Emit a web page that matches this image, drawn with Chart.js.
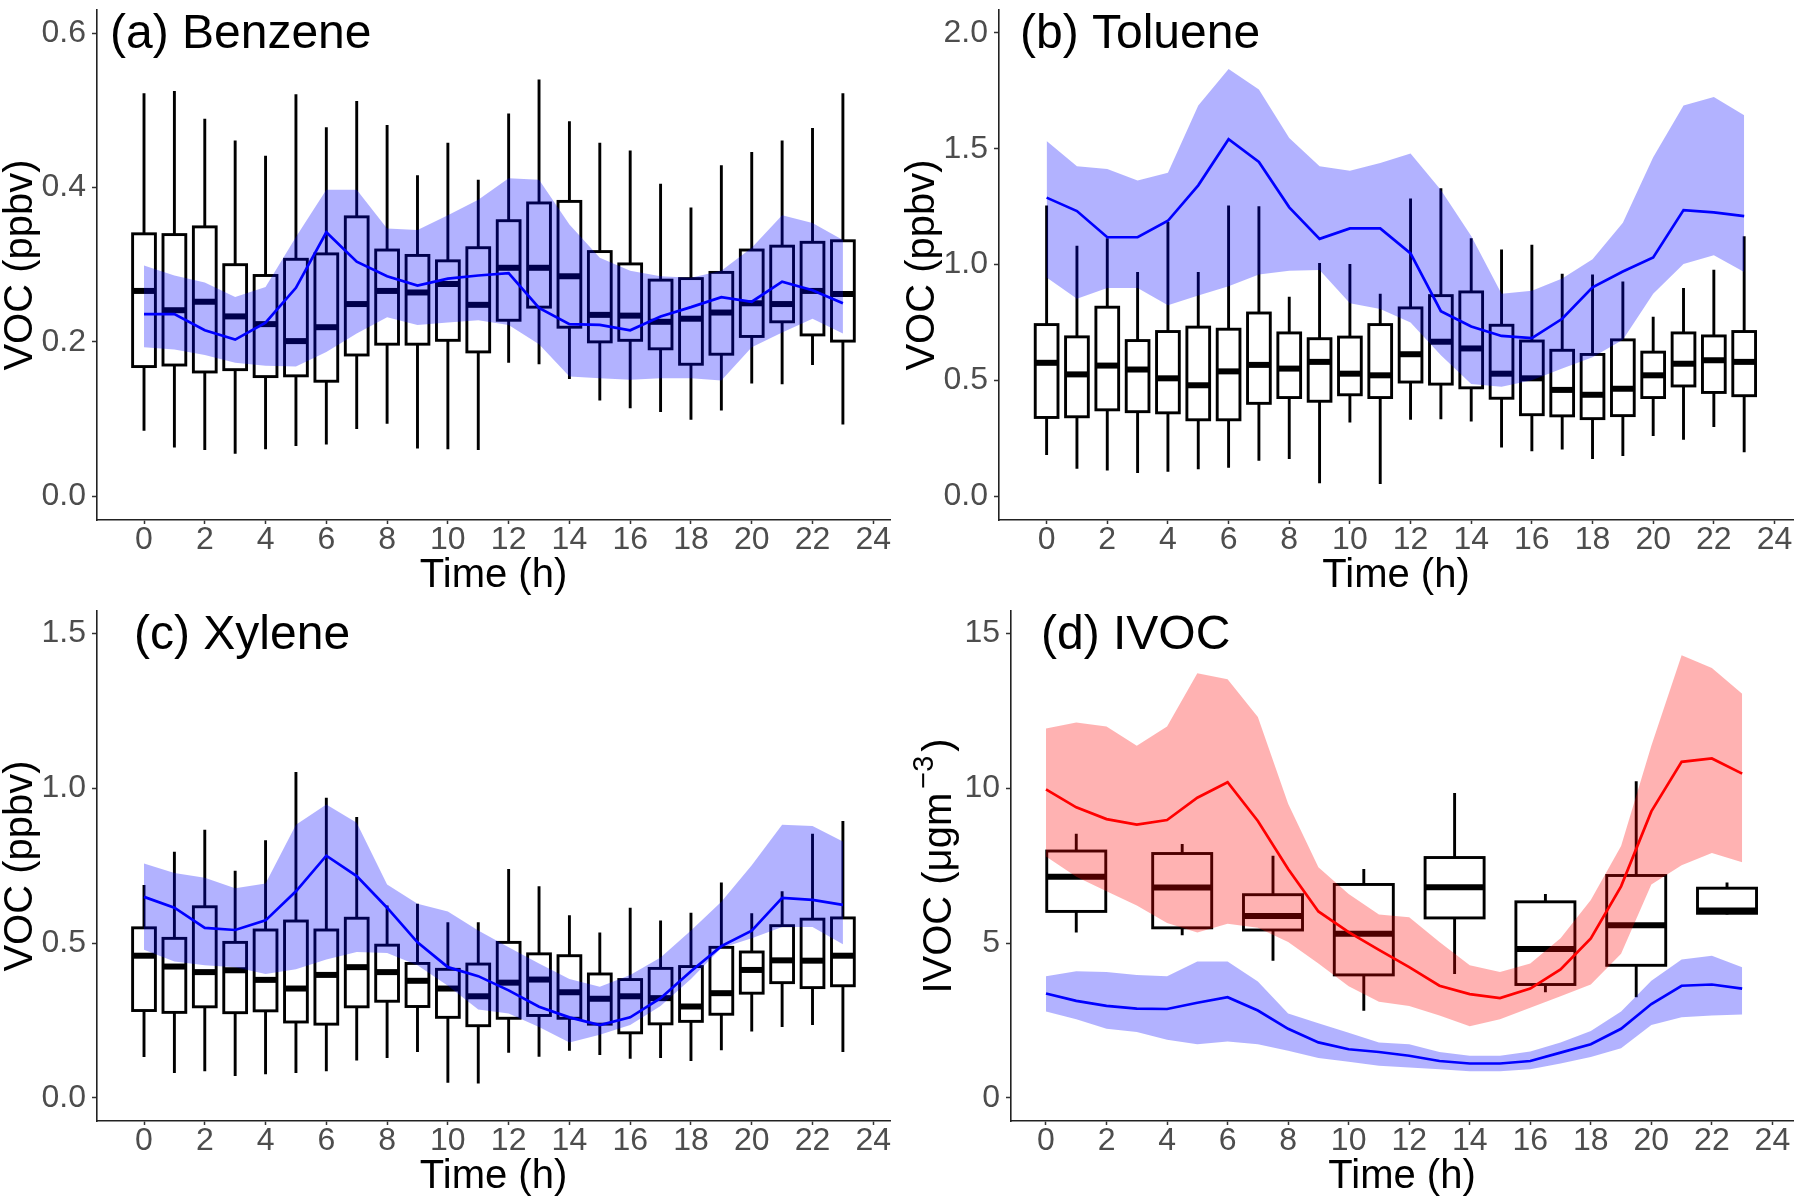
<!DOCTYPE html>
<html><head><meta charset="utf-8">
<script src="https://cdn.jsdelivr.net/npm/chart.js@4.4.1/dist/chart.umd.min.js"></script>
<style>
html,body{margin:0;padding:0;background:#fff;width:1800px;height:1204px;overflow:hidden}
canvas{position:absolute}
</style></head><body>
<canvas id="ca" width="900" height="600" style="left:0;top:0"></canvas>
<canvas id="cb" width="900" height="600" style="left:900px;top:0"></canvas>
<canvas id="cc" width="900" height="600" style="left:0;top:601px"></canvas>
<canvas id="cd" width="900" height="600" style="left:900px;top:601px"></canvas>
<script>
const FONT = '"Liberation Sans", Arial, Helvetica, sans-serif';

// ---------- data ----------
const hours = [0,1,2,3,4,5,6,7,8,9,10,11,12,13,14,15,16,17,18,19,20,21,22,23];
const xTickValues = [0,2,4,6,8,10,12,14,16,18,20,22,24];
const xTitle = 'Time (h)';
const vocTitle = 'VOC (ppbv)';

// (a) Benzene
const bzTicks = [0, 0.2, 0.4, 0.6];
const bzTickLabels = ['0.0','0.2','0.4','0.6'];
const bzMin = [0.085,0.063,0.060,0.055,0.061,0.065,0.067,0.087,0.094,0.062,0.061,0.060,0.173,0.171,0.152,0.124,0.114,0.109,0.099,0.111,0.146,0.145,0.170,0.093];
const bzQ1  = [0.168,0.170,0.161,0.164,0.155,0.156,0.149,0.183,0.197,0.197,0.202,0.187,0.228,0.245,0.219,0.200,0.202,0.191,0.171,0.184,0.207,0.226,0.209,0.201];
const bzMed = [0.266,0.241,0.252,0.233,0.223,0.201,0.219,0.249,0.266,0.264,0.275,0.248,0.296,0.296,0.285,0.235,0.234,0.226,0.230,0.238,0.250,0.249,0.266,0.262];
const bzQ3  = [0.340,0.339,0.349,0.300,0.286,0.307,0.314,0.362,0.319,0.312,0.305,0.322,0.357,0.380,0.382,0.317,0.301,0.280,0.282,0.290,0.319,0.324,0.329,0.331];
const bzMax = [0.522,0.525,0.489,0.461,0.441,0.521,0.478,0.512,0.481,0.416,0.458,0.410,0.496,0.540,0.486,0.458,0.448,0.405,0.374,0.429,0.446,0.461,0.477,0.522];
const bzModel = [0.236,0.236,0.215,0.203,0.225,0.270,0.342,0.304,0.285,0.273,0.282,0.286,0.289,0.244,0.223,0.222,0.215,0.233,0.245,0.258,0.252,0.278,0.267,0.250];
const bzHigh  = [0.299,0.286,0.277,0.258,0.271,0.336,0.397,0.397,0.347,0.345,0.364,0.384,0.412,0.410,0.352,0.309,0.292,0.285,0.283,0.292,0.322,0.364,0.354,0.332];
const bzLow   = [0.193,0.190,0.183,0.173,0.169,0.168,0.187,0.211,0.232,0.222,0.225,0.228,0.222,0.197,0.155,0.153,0.151,0.153,0.153,0.150,0.193,0.212,0.230,0.211];

// (b) Toluene
const tlTicks = [0, 0.5, 1.0, 1.5, 2.0];
const tlTickLabels = ['0.0','0.5','1.0','1.5','2.0'];
const tlMin = [0.178,0.119,0.111,0.100,0.106,0.116,0.123,0.153,0.161,0.056,0.318,0.053,0.330,0.332,0.323,0.210,0.194,0.202,0.161,0.174,0.260,0.244,0.299,0.190];
const tlQ1  = [0.340,0.343,0.373,0.365,0.360,0.330,0.330,0.401,0.426,0.410,0.438,0.426,0.493,0.484,0.468,0.423,0.352,0.347,0.335,0.348,0.426,0.476,0.448,0.434];
const tlMed = [0.576,0.526,0.564,0.547,0.509,0.479,0.539,0.567,0.551,0.580,0.529,0.522,0.613,0.667,0.638,0.529,0.509,0.459,0.438,0.464,0.522,0.572,0.587,0.580];
const tlQ3  = [0.741,0.688,0.816,0.672,0.711,0.730,0.721,0.791,0.705,0.680,0.687,0.741,0.813,0.866,0.882,0.738,0.670,0.630,0.612,0.675,0.622,0.705,0.692,0.711];
const tlMax = [1.255,1.081,1.114,0.968,1.184,0.968,1.255,1.252,0.861,1.007,1.002,0.874,1.285,1.330,1.114,1.065,1.086,0.960,0.957,0.927,0.775,0.899,0.978,1.122];
const tlModel = [1.289,1.231,1.118,1.118,1.189,1.342,1.541,1.443,1.247,1.111,1.156,1.156,1.048,0.799,0.733,0.692,0.683,0.766,0.902,0.970,1.031,1.235,1.225,1.209];
const tlHigh  = [1.534,1.424,1.413,1.363,1.396,1.687,1.844,1.756,1.546,1.424,1.405,1.438,1.479,1.322,1.123,0.874,0.887,0.940,1.023,1.181,1.463,1.687,1.723,1.645];
const tlLow   = [0.944,0.852,0.899,0.899,0.824,0.866,0.907,0.957,0.973,0.977,0.833,0.808,0.750,0.609,0.484,0.473,0.501,0.551,0.600,0.675,0.874,1.002,1.040,0.968];

// (c) Xylene
const xyTicks = [0, 0.5, 1.0, 1.5];
const xyTickLabels = ['0.0','0.5','1.0','1.5'];
const xyMin = [0.132,0.080,0.086,0.071,0.076,0.080,0.086,0.121,0.129,0.148,0.049,0.046,0.146,0.133,0.152,0.138,0.126,0.129,0.119,0.154,0.214,0.229,0.235,0.148];
const xyQ1  = [0.282,0.276,0.294,0.275,0.281,0.245,0.238,0.294,0.312,0.295,0.260,0.233,0.257,0.266,0.257,0.238,0.210,0.239,0.247,0.270,0.338,0.372,0.356,0.362];
const xyMed = [0.459,0.424,0.406,0.412,0.381,0.353,0.397,0.422,0.406,0.378,0.353,0.328,0.372,0.382,0.341,0.320,0.328,0.322,0.295,0.338,0.413,0.444,0.443,0.459];
const xyQ3  = [0.549,0.515,0.617,0.502,0.542,0.571,0.542,0.580,0.493,0.434,0.415,0.432,0.502,0.465,0.459,0.400,0.382,0.418,0.424,0.486,0.471,0.556,0.577,0.581];
const xyMax = [0.687,0.795,0.866,0.733,0.832,1.052,0.969,0.907,0.621,0.627,0.567,0.567,0.739,0.683,0.590,0.534,0.614,0.573,0.598,0.695,0.596,0.667,0.853,0.894];
const xyModel = [0.649,0.614,0.549,0.542,0.573,0.667,0.782,0.716,0.614,0.502,0.422,0.393,0.347,0.294,0.260,0.235,0.260,0.322,0.409,0.490,0.540,0.646,0.639,0.623];
const xyHigh  = [0.757,0.726,0.711,0.677,0.692,0.882,0.947,0.888,0.689,0.627,0.602,0.540,0.486,0.434,0.384,0.359,0.397,0.453,0.540,0.633,0.751,0.882,0.878,0.828];
const xyLow   = [0.478,0.440,0.428,0.422,0.400,0.415,0.447,0.471,0.468,0.428,0.362,0.285,0.272,0.229,0.179,0.204,0.235,0.297,0.384,0.484,0.515,0.552,0.552,0.496];

// (d) IVOC
const ivTicks = [0, 5, 10, 15];
const ivTickLabels = ['0','5','10','15'];
const ivBoxX = [1, 4.5, 7.5, 10.5, 13.5, 16.5, 19.5, 22.5];
const ivMin = [5.34,5.25,4.43,2.81,4.00,3.41,3.25,5.92];
const ivQ1  = [6.02,5.49,5.42,3.97,5.81,3.66,4.28,5.96];
const ivMed = [7.14,6.79,5.87,5.30,6.80,4.81,5.57,6.05];
const ivQ3  = [7.97,7.89,6.56,6.89,7.76,6.33,7.18,6.77];
const ivMax = [8.53,8.20,7.82,7.39,9.84,6.58,10.22,6.95];
const ivRedModel = [9.96,9.38,9.00,8.82,8.97,9.69,10.19,8.94,7.39,6.02,5.35,4.78,4.22,3.62,3.35,3.22,3.53,4.15,5.15,6.83,9.25,10.85,10.96,10.47];
const ivRedHigh  = [11.93,12.12,11.99,11.37,11.99,13.71,13.52,12.30,9.50,7.45,6.58,5.92,5.83,5.03,4.28,4.06,4.34,5.15,6.39,8.13,11.37,14.29,13.88,13.05];
const ivRedLow   = [7.79,7.14,6.67,6.21,5.65,5.34,5.62,5.49,5.03,4.34,3.60,3.10,2.97,2.66,2.31,2.54,2.91,3.28,3.66,4.65,6.89,7.51,7.91,7.61];
const ivBlueModel = [3.37,3.13,2.97,2.88,2.87,3.07,3.25,2.82,2.23,1.79,1.57,1.48,1.36,1.19,1.11,1.11,1.19,1.46,1.73,2.23,3.03,3.62,3.66,3.53];
const ivBlueHigh  = [3.93,4.09,4.06,3.97,3.93,4.40,4.40,3.76,2.72,2.41,2.10,1.79,1.73,1.48,1.36,1.36,1.50,1.79,2.16,2.79,3.78,4.47,4.59,4.22];
const ivBlueLow   = [2.79,2.54,2.23,2.13,1.88,1.73,1.82,1.73,1.52,1.29,1.17,1.04,0.98,0.92,0.86,0.86,0.92,1.11,1.32,1.60,2.35,2.60,2.66,2.69];

// ---------- rendering ----------
Chart.defaults.font.family = FONT;
const pts = arr => hours.map((h, i) => ({x: h, y: arr[i]}));

function boxPlugin(box) {
  return {
    id: 'boxes',
    beforeDatasetsDraw(chart) {
      const xs = chart.scales.x, ys = chart.scales.y, ctx = chart.ctx;
      ctx.save();
      ctx.lineCap = 'butt';
      ctx.strokeStyle = '#000';
      for (let i = 0; i < box.x.length; i++) {
        const xc = xs.getPixelForValue(box.x[i]);
        const xl = xs.getPixelForValue(box.x[i] - box.width / 2);
        const xr = xs.getPixelForValue(box.x[i] + box.width / 2);
        const yMin = ys.getPixelForValue(box.min[i]);
        const yQ1 = ys.getPixelForValue(box.q1[i]);
        const yMed = ys.getPixelForValue(box.med[i]);
        const yQ3 = ys.getPixelForValue(box.q3[i]);
        const yMax = ys.getPixelForValue(box.max[i]);
        ctx.lineWidth = 2.9;
        ctx.beginPath();
        ctx.moveTo(xc, yMax); ctx.lineTo(xc, yQ3);
        ctx.moveTo(xc, yQ1); ctx.lineTo(xc, yMin);
        ctx.stroke();
        ctx.fillStyle = '#fff';
        ctx.fillRect(xl, yQ3, xr - xl, yQ1 - yQ3);
        ctx.strokeRect(xl, yQ3, xr - xl, yQ1 - yQ3);
        ctx.lineWidth = 6;
        ctx.beginPath();
        ctx.moveTo(xl, yMed); ctx.lineTo(xr, yMed);
        ctx.stroke();
      }
      ctx.restore();
    }
  };
}

function labelPlugin(text, dx, baseY, customY) {
  return {
    id: 'panelLabel',
    afterDraw(chart) {
      const ctx = chart.ctx;
      ctx.save();
      ctx.fillStyle = '#000';
      ctx.font = '48px ' + FONT;
      ctx.textAlign = 'left';
      ctx.textBaseline = 'alphabetic';
      ctx.fillText(text, chart.chartArea.left + dx, baseY);
      if (customY) {
        // IVOC y-axis title with superscript, centred on the y axis
        ctx.font = '40px ' + FONT;
        const main = 'IVOC (\u03BCgm';
        const wMain = ctx.measureText(main).width;
        ctx.font = '29px ' + FONT;
        const sup = '\u22123';
        const wSup = ctx.measureText(sup).width;
        ctx.font = '40px ' + FONT;
        const wEnd = ctx.measureText(')').width;
        const total = wMain + 4 + wSup + 4 + wEnd;
        const yc = (chart.chartArea.top + chart.chartArea.bottom) / 2;
        ctx.translate(51, yc + total / 2);
        ctx.rotate(-Math.PI / 2);
        ctx.fillText(main, 0, 0);
        ctx.font = '29px ' + FONT;
        ctx.fillText(sup, wMain + 4, -18);
        ctx.font = '40px ' + FONT;
        ctx.fillText(')', wMain + 4 + wSup + 4, 0);
      }
      ctx.restore();
    }
  };
}

function makePanel(id, cfg) {
  const datasets = [];
  cfg.series.forEach(s => {
    datasets.push({data: pts(s.model), borderColor: s.line, borderWidth: 2.7, pointRadius: 0, fill: false, tension: 0, order: 0});
    datasets.push({data: pts(s.high), borderColor: 'rgba(0,0,0,0)', borderWidth: 0, pointRadius: 0, fill: '+1', backgroundColor: s.band, tension: 0, order: 1});
    datasets.push({data: pts(s.low), borderColor: 'rgba(0,0,0,0)', borderWidth: 0, pointRadius: 0, fill: false, tension: 0, order: 2});
  });
  return new Chart(document.getElementById(id), {
    type: 'line',
    data: {datasets},
    options: {
      responsive: false, animation: false, devicePixelRatio: 1,
      events: [],
      layout: {padding: {left: 0, top: 10, right: cfg.padRight, bottom: 0}},
      plugins: {legend: {display: false}, tooltip: {enabled: false}},
      scales: {
        x: {
          type: 'linear', min: cfg.xMin, max: cfg.xMax,
          afterBuildTicks: s => { s.ticks = xTickValues.map(v => ({value: v})); },
          afterFit: s => { s.height = 80; s.paddingLeft = 0; s.paddingRight = 0; },
          ticks: {color: '#4d4d4d', font: {size: 32, lineHeight: 1}, padding: 0, maxRotation: 0, minRotation: 0, autoSkip: false, callback: v => String(v)},
          grid: {display: true, drawOnChartArea: false, drawTicks: true, tickLength: 4, tickWidth: 1.5, tickColor: '#333', color: '#333'},
          border: {display: true, color: '#222', width: 1.6},
          title: {display: true, text: xTitle, color: '#000', font: {size: 40, lineHeight: 1}, padding: {top: 0, bottom: 4}}
        },
        y: {
          type: 'linear', min: cfg.yMin, max: cfg.yMax,
          afterBuildTicks: s => { s.ticks = cfg.yTicks.map(v => ({value: v})); },
          afterFit: s => { s.width = cfg.yWidth; s.paddingTop = 0; s.paddingBottom = 0; },
          ticks: {color: '#4d4d4d', font: {size: 32, lineHeight: 1}, padding: 6, autoSkip: false, callback: (v, i) => cfg.yTickLabels[i]},
          grid: {display: true, drawOnChartArea: false, drawTicks: true, tickLength: 5, tickWidth: 1.5, tickColor: '#333', color: '#333'},
          border: {display: true, color: '#222', width: 1.6},
          title: {display: !!cfg.yTitle, text: cfg.yTitle || '', color: '#000', font: {size: 40, lineHeight: 1}, padding: {top: cfg.yTitlePad, bottom: 0}}
        }
      }
    },
    plugins: [boxPlugin(cfg.box), labelPlugin(cfg.label, cfg.labelDx, 48, cfg.customY)]
  });
}

const BLUE = {line: '#0000ff', band: 'rgba(0,0,255,0.3)'};
const RED = {line: '#ff0000', band: 'rgba(255,0,0,0.3)'};

makePanel('ca', {
  xMin: -1.547, xMax: 24.55, yMin: -0.0308, yMax: 0.630, yTicks: bzTicks, yTickLabels: bzTickLabels,
  yWidth: 97, padRight: 10, yTitle: vocTitle, yTitlePad: 1, label: '(a) Benzene', labelDx: 13,
  box: {x: hours, min: bzMin, q1: bzQ1, med: bzMed, q3: bzQ3, max: bzMax, width: 0.75},
  series: [{model: bzModel, high: bzHigh, low: bzLow, ...BLUE}]
});
makePanel('cb', {
  xMin: -1.57, xMax: 24.61, yMin: -0.1026, yMax: 2.099, yTicks: tlTicks, yTickLabels: tlTickLabels,
  yWidth: 99, padRight: 7, yTitle: vocTitle, yTitlePad: 3, label: '(b) Toluene', labelDx: 21,
  box: {x: hours, min: tlMin, q1: tlQ1, med: tlMed, q3: tlQ3, max: tlMax, width: 0.75},
  series: [{model: tlModel, high: tlHigh, low: tlLow, ...BLUE}]
});
makePanel('cc', {
  xMin: -1.547, xMax: 24.55, yMin: -0.0747, yMax: 1.572, yTicks: xyTicks, yTickLabels: xyTickLabels,
  yWidth: 97, padRight: 10, yTitle: vocTitle, yTitlePad: 1, label: '(c) Xylene', labelDx: 37,
  box: {x: hours, min: xyMin, q1: xyQ1, med: xyMed, q3: xyQ3, max: xyMax, width: 0.75},
  series: [{model: xyModel, high: xyHigh, low: xyLow, ...BLUE}]
});
makePanel('cd', {
  xMin: -1.156, xMax: 24.68, yMin: -0.747, yMax: 15.72, yTicks: ivTicks, yTickLabels: ivTickLabels,
  yWidth: 111, padRight: 7, yTitle: null, yTitlePad: 0, label: '(d) IVOC', labelDx: 30, customY: true,
  box: {x: ivBoxX, min: ivMin, q1: ivQ1, med: ivMed, q3: ivQ3, max: ivMax, width: 1.95},
  series: [{model: ivBlueModel, high: ivBlueHigh, low: ivBlueLow, ...BLUE}, {model: ivRedModel, high: ivRedHigh, low: ivRedLow, ...RED}]
});
</script>
</body></html>
